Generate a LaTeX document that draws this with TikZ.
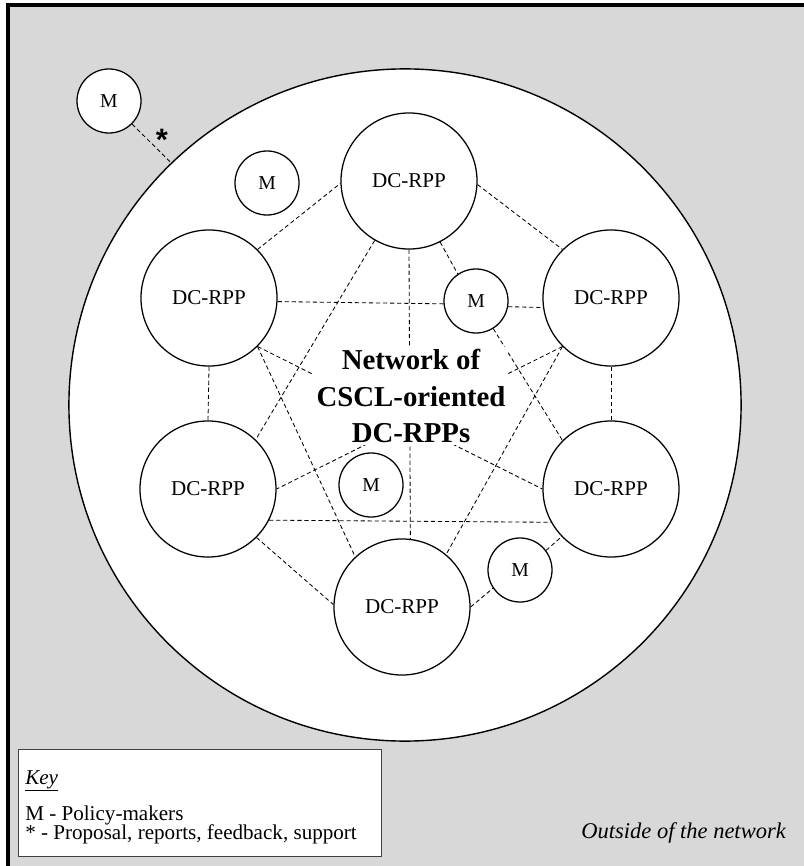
\documentclass[tikz,border=0pt]{standalone}
\usepackage{fontspec}
\setmainfont{Liberation Serif}
\newfontfamily\starfont{Liberation Sans}
\definecolor{outsidegray}{RGB}{216,216,216}
\tikzset{
  rppnode/.style={circle, draw, fill=white, line width=0.9pt, minimum size=3.4cm, inner sep=0pt, font=\fontsize{15}{18}\selectfont},
  pmnode/.style={circle, draw, fill=white, line width=0.9pt, minimum size=1.6cm, inner sep=0pt, font=\fontsize{14}{16}\selectfont},
  tie/.style={dash pattern=on 3pt off 2pt, line width=0.6pt},
  keytext/.style={anchor=base west, inner sep=0pt, font=\fontsize{15}{18}\selectfont}
}
\begin{document}
\begin{tikzpicture}[x=0.025cm, y=-0.025cm]
\useasboundingbox (0,0) rectangle (803,866);
\fill[outsidegray] (8,5) rectangle (820,880);
\draw[line width=2.2pt] (8,880) -- (8,5) -- (820,5);
\node[circle, draw, fill=white, line width=1pt, minimum size=16.8cm] (net) at (405,405) {};

\node[rppnode] (T) at (409,181) {DC-RPP};
\node[rppnode] (UL) at (209,298) {DC-RPP};
\node[rppnode] (UR) at (611,298) {DC-RPP};
\node[rppnode] (LL) at (208,489) {DC-RPP};
\node[rppnode] (LR) at (611,489) {DC-RPP};
\node[rppnode] (B) at (402,607) {DC-RPP};

\node[pmnode] (Mout) at (109,101) {M};
\node[pmnode] (Ma) at (267,183) {M};
\node[pmnode] (Mb) at (476,301) {M};
\node[pmnode] (Mc) at (371,485) {M};
\node[pmnode] (Md) at (520,570) {M};

\draw[tie] (Mout.-45) -- (net.134);
\node[font=\starfont\bfseries\fontsize{22}{22}\selectfont, inner sep=0pt] (star) at (162,140) {*};

\draw[tie] (UL.45) -- (T.182);
\draw[tie] (T.-3) -- (UR.135);
\draw[tie] (T.-63) -- (Mb.124);
\draw[tie] (T.south) -- (B.83);
\draw[tie] (T.240) -- (LL.46);
\draw[tie] (UL.-3) -- (Mb.185);
\draw[tie] (Mb.-10) -- (UR.188);
\draw[tie] (Mb.-58) -- (LR.135);
\draw[tie] (UR.south) -- (LR.north);
\draw[tie] (UL.south) -- (LL.north);
\draw[tie] (UL.-45) -- (B.133);
\draw[tie] (UL.-45) -- (LR.180);
\draw[tie] (UR.-135) -- (B.50);
\draw[tie] (UR.-135) -- (LL.0);
\draw[tie] (LL.-27) -- (LR.209);
\draw[tie] (LL.-45) -- (B.178);
\draw[tie] (B.0) -- (Md.214);
\draw[tie] (Md.37) -- (LR.224);

\node[fill=white, inner sep=1.5pt, align=center, font=\bfseries\fontsize{20.5}{26}\selectfont] (title) at (411,396) {Network of\\CSCL-oriented\\DC-RPPs};

\node[draw=black!75, fill=white, line width=0.8pt, minimum width=9.075cm, minimum height=2.675cm, anchor=north west] (key) at (18,749) {};
\node[keytext] (keyhead) at (25,784) {\underline{\textit{Key}}};
\node[keytext] (keym) at (25,820) {M - Policy-makers};
\node[keytext] (keystar) at (25,839) {* - Proposal, reports, feedback, support};

\node[anchor=base east, inner sep=0pt, font=\itshape\fontsize{16}{19}\selectfont] (outside) at (786,838) {Outside of the network};
\end{tikzpicture}
\end{document}
